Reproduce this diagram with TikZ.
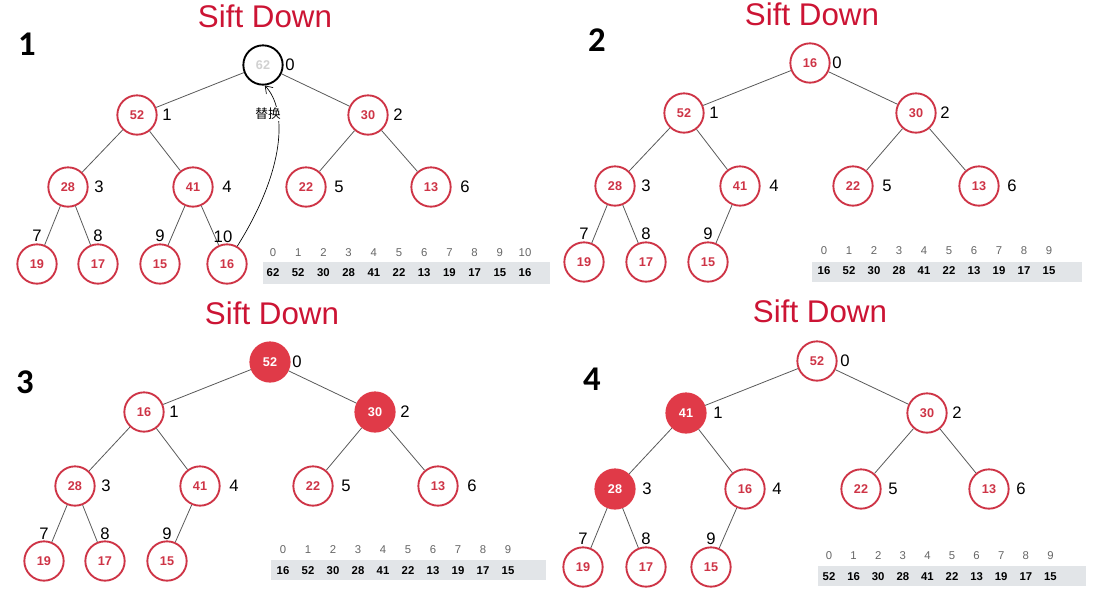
\documentclass[tikz,border=0pt]{standalone}
\usepackage{fontspec}
\setmainfont{Liberation Sans}
\newfontfamily\cjkfont{Noto Sans CJK SC}
\newfontfamily\stepfont{Carlito}
\usetikzlibrary{arrows.meta}

\definecolor{heapred}{RGB}{206,52,70}
\definecolor{hotred}{RGB}{224,58,72}
\definecolor{titlered}{RGB}{204,20,52}
\definecolor{tablegray}{RGB}{226,229,232}

\tikzstyle{heapnode}=[circle, draw=heapred, line width=1.4pt, fill=white, text=heapred, minimum size=29.5pt, inner sep=0pt, font=\bfseries\fontsize{9.5}{9.5}\selectfont]
\tikzstyle{hotnode}=[heapnode, fill=hotred, draw=hotred, text=white]
\tikzstyle{oldnode}=[heapnode, draw=black, text=black!18]
\tikzstyle{idx}=[inner sep=0pt, font=\fontsize{12.5}{12.5}\selectfont]
\tikzstyle{sifttitle}=[text=titlered, font=\fontsize{23.5}{24}\selectfont]
\tikzstyle{stepno}=[font=\stepfont\bfseries\fontsize{26}{26}\selectfont]
\tikzstyle{edge}=[draw=black!65, line width=0.6pt]
\tikzstyle{cellidx}=[inner sep=0pt, text=black!60, font=\fontsize{8.5}{8.5}\selectfont]
\tikzstyle{cellval}=[inner sep=0pt, font=\bfseries\fontsize{8.5}{8.5}\selectfont]
\tikzstyle{swaparrow}=[line width=0.5pt, -{Straight Barb[length=5pt,width=7pt]}]

\begin{document}
\begin{tikzpicture}[x=0.75pt,y=-0.75pt]
\useasboundingbox (0,0) rectangle (1098,590);

% step 1
\node[sifttitle] (t1) at (265,16) {Sift Down};
\node[stepno] (s1) at (27,44) {1};
\node[oldnode] (a0) at (263,65) {62};
\node[heapnode] (a1) at (137,115) {52};
\node[heapnode] (a2) at (368,115) {30};
\node[heapnode] (a3) at (68,187) {28};
\node[heapnode] (a4) at (193,187) {41};
\node[heapnode] (a5) at (306,187) {22};
\node[heapnode] (a6) at (431,187) {13};
\node[heapnode] (a7) at (37,264) {19};
\node[heapnode] (a8) at (98,264) {17};
\node[heapnode] (a9) at (160,264) {15};
\node[heapnode] (a10) at (227,264) {16};
\foreach \p/\c in {0/1,0/2,1/3,1/4,2/5,2/6,3/7,3/8,4/9,4/10}
  \draw[edge] (a\p)--(a\c);
\node[idx] (an0) at (290,65) {0};
\node[idx] (an1) at (167,115) {1};
\node[idx] (an2) at (398,115) {2};
\node[idx] (an3) at (99,187) {3};
\node[idx] (an4) at (227,187) {4};
\node[idx] (an5) at (339,187) {5};
\node[idx] (an6) at (465,187) {6};
\node[idx] (an7) at (37,236) {7};
\node[idx] (an8) at (98,236) {8};
\node[idx] (an9) at (160,236) {9};
\node[idx] (an10) at (223,237) {10};
\draw[swaparrow] (a10.60) .. controls (285,170) and (288,110) .. (a0.-85);
\node[fill=white, inner sep=1pt, font=\cjkfont\fontsize{9.5}{10}\selectfont] (swap) at (268,114) {替换};
\fill[tablegray] (263,262) rectangle (550,284);
\foreach \v [count=\i from 0] in {62,52,30,28,41,22,13,19,17,15,16} {
  \node[cellidx] (ax\i) at ({273+25.2*\i},253) {\i};
  \node[cellval] (av\i) at ({273+25.2*\i},273) {\v};
}

% step 2
\node[sifttitle] (t2) at (812,14) {Sift Down};
\node[stepno] (s2) at (597,40) {2};
\node[heapnode] (b0) at (810,63) {16};
\node[heapnode] (b1) at (684,113) {52};
\node[heapnode] (b2) at (916,113) {30};
\node[heapnode] (b3) at (615,186) {28};
\node[heapnode] (b4) at (740,186) {41};
\node[heapnode] (b5) at (853,186) {22};
\node[heapnode] (b6) at (979,186) {13};
\node[heapnode] (b7) at (584,262) {19};
\node[heapnode] (b8) at (646,262) {17};
\node[heapnode] (b9) at (708,262) {15};
\foreach \p/\c in {0/1,0/2,1/3,1/4,2/5,2/6,3/7,3/8,4/9}
  \draw[edge] (b\p)--(b\c);
\node[idx] (bn0) at (837,63) {0};
\node[idx] (bn1) at (714,113) {1};
\node[idx] (bn2) at (945,113) {2};
\node[idx] (bn3) at (646,186) {3};
\node[idx] (bn4) at (774,186) {4};
\node[idx] (bn5) at (887,186) {5};
\node[idx] (bn6) at (1012,186) {6};
\node[idx] (bn7) at (584,234) {7};
\node[idx] (bn8) at (646,234) {8};
\node[idx] (bn9) at (708,234) {9};
\fill[tablegray] (812,262) rectangle (1082,282);
\foreach \v [count=\i from 0] in {16,52,30,28,41,22,13,19,17,15} {
  \node[cellidx] (bx\i) at ({824+25*\i},251) {\i};
  \node[cellval] (bv\i) at ({824+25*\i},271) {\v};
}

% step 3
\node[sifttitle] (t3) at (272,313) {Sift Down};
\node[stepno] (s3) at (25,382) {3};
\node[hotnode] (c0) at (270,362) {52};
\node[heapnode] (c1) at (144,412) {16};
\node[hotnode] (c2) at (375,412) {30};
\node[heapnode] (c3) at (75,486) {28};
\node[heapnode] (c4) at (200,486) {41};
\node[heapnode] (c5) at (313,486) {22};
\node[heapnode] (c6) at (438,486) {13};
\node[heapnode] (c7) at (44,561) {19};
\node[heapnode] (c8) at (105,561) {17};
\node[heapnode] (c9) at (167,561) {15};
\foreach \p/\c in {0/1,0/2,1/3,1/4,2/5,2/6,3/7,3/8,4/9}
  \draw[edge] (c\p)--(c\c);
\node[idx] (cn0) at (297,362) {0};
\node[idx] (cn1) at (174,412) {1};
\node[idx] (cn2) at (405,412) {2};
\node[idx] (cn3) at (106,486) {3};
\node[idx] (cn4) at (234,486) {4};
\node[idx] (cn5) at (346,486) {5};
\node[idx] (cn6) at (472,486) {6};
\node[idx] (cn7) at (44,534) {7};
\node[idx] (cn8) at (105,534) {8};
\node[idx] (cn9) at (167,534) {9};
\fill[tablegray] (271,560) rectangle (546,580);
\foreach \v [count=\i from 0] in {16,52,30,28,41,22,13,19,17,15} {
  \node[cellidx] (cx\i) at ({283+25*\i},550) {\i};
  \node[cellval] (cv\i) at ({283+25*\i},571) {\v};
}

% step 4
\node[sifttitle] (t4) at (820,311) {Sift Down};
\node[stepno] (s4) at (592,379) {4};
\node[heapnode] (d0) at (817,361) {52};
\node[hotnode] (d1) at (686,413) {41};
\node[heapnode] (d2) at (927,413) {30};
\node[hotnode] (d3) at (615,489) {28};
\node[heapnode] (d4) at (745,489) {16};
\node[heapnode] (d5) at (861,489) {22};
\node[heapnode] (d6) at (989,489) {13};
\node[heapnode] (d7) at (583,567) {19};
\node[heapnode] (d8) at (646,567) {17};
\node[heapnode] (d9) at (711,567) {15};
\foreach \p/\c in {0/1,0/2,1/3,1/4,2/5,2/6,3/7,3/8,4/9}
  \draw[edge] (d\p)--(d\c);
\node[idx] (dn0) at (845,361) {0};
\node[idx] (dn1) at (718,413) {1};
\node[idx] (dn2) at (957,413) {2};
\node[idx] (dn3) at (647,489) {3};
\node[idx] (dn4) at (777,489) {4};
\node[idx] (dn5) at (893,489) {5};
\node[idx] (dn6) at (1021,489) {6};
\node[idx] (dn7) at (583,539) {7};
\node[idx] (dn8) at (646,539) {8};
\node[idx] (dn9) at (711,539) {9};
\fill[tablegray] (818,566) rectangle (1086,586);
\foreach \v [count=\i from 0] in {52,16,30,28,41,22,13,19,17,15} {
  \node[cellidx] (dx\i) at ({829+24.6*\i},556) {\i};
  \node[cellval] (dv\i) at ({829+24.6*\i},577) {\v};
}

\end{tikzpicture}
\end{document}
